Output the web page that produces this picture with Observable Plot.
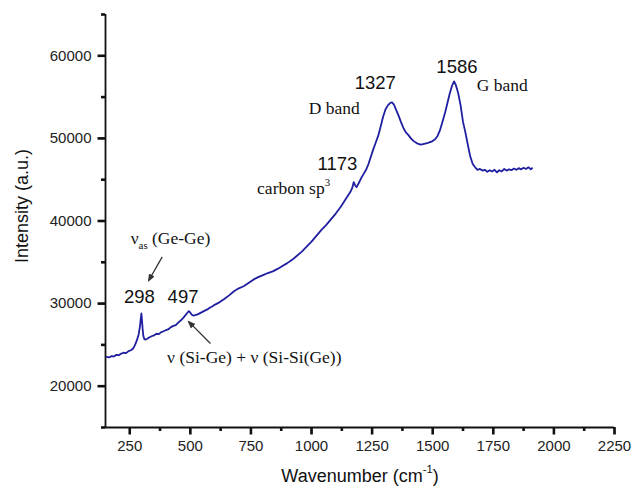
<!DOCTYPE html>
<html>
<head>
<meta charset="utf-8">
<script src="https://cdn.jsdelivr.net/npm/d3@7"></script>
<script src="https://cdn.jsdelivr.net/npm/@observablehq/plot@0.6"></script>
<style>
  html, body { margin: 0; padding: 0; background: #fff; }
  #chart svg { display: block; }
</style>
</head>
<body>
<div id="chart"></div>
<script>
// Raman spectrum
const wavenumber = [
  155,165,175,185,195,205,215,225,235,245,255,265,272,280,287,292,296,298,300,303,306,310,316,322,330,340,350,360,370,380,390,400,410,420,430,440,450,460,470,480,488,494,500,506,512,520,530,540,550,560,570,580,590,600,620,640,660,680,700,720,740,760,780,800,820,840,860,880,900,920,940,960,980,1000,1020,1040,1060,1080,1100,1120,1140,1160,1168,1174,1180,1186,1195,1205,1215,1225,1235,1245,1255,1265,1275,1285,1295,1305,1315,1325,1332,1340,1350,1360,1370,1380,1390,1400,1410,1420,1435,1450,1465,1480,1495,1510,1520,1530,1540,1550,1560,1570,1580,1588,1595,1605,1615,1625,1635,1645,1655,1665,1675,1685,1695,1705,1715,1725,1735,1745,1755,1765,1775,1785,1795,1805,1815,1825,1835,1845,1855,1865,1875,1885,1895,1905,1910
];
const intensity = [
  23550,23480,23650,23600,23800,23750,23950,24050,24000,24250,24350,24600,25000,25600,26300,27200,28300,28800,28200,27000,26100,25700,25650,25750,25900,26050,26150,26350,26300,26550,26650,26800,26900,27150,27300,27400,27700,27950,28250,28600,28900,29080,28900,28650,28550,28600,28700,28850,29000,29150,29300,29500,29650,29850,30150,30550,31000,31500,31850,32100,32500,32900,33200,33450,33700,33900,34200,34550,34900,35300,35800,36300,36900,37500,38200,38900,39500,40200,40900,41700,42600,43500,44000,44700,44300,44100,44600,45200,45700,46200,46900,47800,48700,49500,50300,51400,52600,53500,54000,54300,54350,54100,53400,52700,51900,51200,50700,50400,50000,49700,49400,49250,49350,49450,49600,49900,50300,51000,52000,53000,54200,55400,56400,56900,56500,55500,54000,52000,50700,49200,47800,46900,46500,46200,46300,46100,46200,45950,46150,46000,46200,45900,46150,46000,46300,46100,46250,46150,46350,46200,46400,46250,46450,46300,46500,46250,46400
];

// Axis ticks
const xMajorTicks = [250,500,750,1000,1250,1500,1750,2000,2250];
const xMinorTicks = [375,625,875,1125,1375,1625,1875,2125];
const yMajorTicks = [20000,30000,40000,50000,60000];
const yMinorTicks = [15000,25000,35000,45000,55000,65000];

// Peak labels
const peakLabels = ["298","497","1173","1327","1586"];
const peakX = [290,470,1107,1263,1600];
const peakY = [30840,30840,46940,56680,58620];

// Band / assignment labels
const bandLabels = ["ν_{as} (Ge-Ge)","ν (Si-Ge) + ν (Si-Si(Ge))","carbon sp^{3}","D band","G band"];
const bandX = [418,764,926,1094,1787];
const bandY = [37920,23510,43900,53600,56440];

// Arrows (from -> to)
const arrowX1 = [384,583];
const arrowY1 = [35650,25170];
const arrowX2 = [329,494];
const arrowY2 = [32830,27785];

const xTitle = "Wavenumber (cm^{-1})";
const yTitle = "Intensity (a.u.)";

const spectrum = wavenumber.map((w, i) => ({w, v: intensity[i]}));
const peaks = peakLabels.map((t, i) => ({t, x: peakX[i], y: peakY[i]}));
const bands = bandLabels.map((t, i) => ({t, x: bandX[i], y: bandY[i]}));
const arrows = arrowX1.map((x1, i) => ({x1, y1: arrowY1[i], x2: arrowX2[i], y2: arrowY2[i]}));

const sans = "'Liberation Sans', Arial, Helvetica, sans-serif";
const serif = "'Liberation Serif', 'Times New Roman', Times, serif";

// layout
const W = 632, H = 488, mL = 105, mR = 18, mT = 14, mB = 61;
const frameW = W - mL - mR, frameH = H - mT - mB;

// filled triangular arrowhead marker
function filledHead(color, context) {
  const m = d3.create("svg:marker")
    .attr("viewBox", "-6 -4 8 8")
    .attr("markerWidth", 8)
    .attr("markerHeight", 8)
    .attr("markerUnits", "userSpaceOnUse")
    .attr("orient", "auto")
    .attr("fill", color)
    .attr("stroke", "none");
  m.append("path").attr("d", "M-6,-3.2L2,0L-6,3.2Z");
  return m.node();
}

const axisStroke = "#111";
const tickW = 2.6;

const chart = Plot.plot({
  width: W,
  height: H,
  marginLeft: mL,
  marginRight: mR,
  marginTop: mT,
  marginBottom: mB,
  x: {domain: [150, 2250]},
  y: {domain: [15000, 65000]},
  style: {fontFamily: sans, fontSize: "15px", color: "#222", background: "#fff"},
  marks: [
    // tick labels
    Plot.axisX({ticks: xMajorTicks, tickSize: 7, tickPadding: 6, tickFormat: d => String(d), label: null, fontSize: 15, stroke: axisStroke, strokeWidth: 1.5, fill: "#222"}),
    Plot.axisY({ticks: yMajorTicks, tickSize: 7, tickPadding: 7, tickFormat: d => String(d), label: null, fontSize: 15, stroke: axisStroke, strokeWidth: 1.5, fill: "#222"}),
    // tick marks (outward)
    Plot.tickX(xMajorTicks, {x: d => d, insetTop: frameH, insetBottom: -7.5, stroke: axisStroke, strokeWidth: tickW}),
    Plot.tickX(xMinorTicks, {x: d => d, insetTop: frameH, insetBottom: -4, stroke: axisStroke, strokeWidth: tickW}),
    Plot.tickY(yMajorTicks, {y: d => d, insetLeft: -7.5, insetRight: frameW, stroke: axisStroke, strokeWidth: tickW}),
    Plot.tickY(yMinorTicks, {y: d => d, insetLeft: -4, insetRight: frameW, stroke: axisStroke, strokeWidth: tickW}),
    // axis lines
    Plot.ruleX([150], {stroke: axisStroke, strokeWidth: 1.8}),
    Plot.ruleY([15000], {stroke: axisStroke, strokeWidth: 1.8}),
    // spectrum
    Plot.line(spectrum, {x: "w", y: "v", stroke: "#1f1fa0", strokeWidth: 1.8, curve: "linear"}),
    // annotations
    Plot.text(peaks, {x: "x", y: "y", text: "t", fontFamily: sans, fontSize: 18.5, fill: "#111", lineAnchor: "middle"}),
    Plot.text(bands, {x: "x", y: "y", text: "t", fontFamily: serif, fontSize: 17.5, fill: "#111", lineAnchor: "middle"}),
    Plot.link(arrows, {x1: "x1", y1: "y1", x2: "x2", y2: "y2", stroke: "#333", strokeWidth: 1.3, markerEnd: filledHead}),
    // axis titles
    Plot.text([xTitle], {frameAnchor: "bottom", dy: 49, textAnchor: "middle", fontFamily: sans, fontSize: 18, fill: "#111", lineAnchor: "middle"}),
    Plot.text([yTitle], {frameAnchor: "left", dx: -83, dy: -15, rotate: -90, textAnchor: "middle", fontFamily: sans, fontSize: 18, fill: "#111", lineAnchor: "middle"})
  ]
});

// Render ^{..} and _{..} as super/subscript tspans
d3.select(chart).selectAll("text").each(function() {
  const el = this;
  if (el.childElementCount > 0) return;
  const s = el.textContent;
  if (!/[\^_]\{/.test(s)) return;
  const parts = s.split(/(\^\{[^}]*\}|_\{[^}]*\})/).filter(p => p.length);
  el.textContent = "";
  let shift = 0;
  for (const p of parts) {
    const t = document.createElementNS("http://www.w3.org/2000/svg", "tspan");
    let target = 0, txt = p, small = false;
    if (p.startsWith("^{")) { target = -0.5; txt = p.slice(2, -1); small = true; }
    else if (p.startsWith("_{")) { target = 0.3; txt = p.slice(2, -1); small = true; }
    const dy = target - shift;
    if (small) {
      t.setAttribute("font-size", "0.62em");
      t.setAttribute("dy", (dy / 0.62).toFixed(3) + "em");
    } else if (dy !== 0) {
      t.setAttribute("dy", dy.toFixed(3) + "em");
    }
    shift = target;
    t.textContent = txt;
    el.appendChild(t);
  }
});

document.getElementById("chart").appendChild(chart);
</script>
</body>
</html>
